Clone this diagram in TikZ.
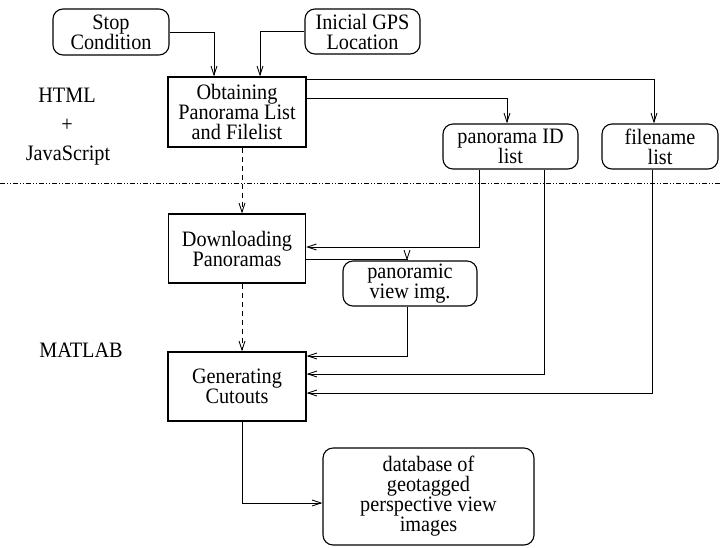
\documentclass[tikz,border=0pt]{standalone}
\usepackage{fontspec}
\setmainfont{Liberation Serif}[FakeStretch=0.92]
\usetikzlibrary{arrows.meta}
\begin{document}
\begin{tikzpicture}[x=1pt,y=-1pt,
  every node/.style={font=\fontsize{22}{20}\selectfont},
  sqbox/.style={draw,line width=1.1pt,inner sep=0pt,align=center},
  rndbox/.style={draw,line width=1.1pt,rounded corners=10pt,inner sep=0pt,align=center},
  conn/.style={line width=0.9pt,-{Straight Barb[length=9pt,width=6pt,line width=0.9pt]}},
  dashconn/.style={conn,dash pattern=on 5pt off 4pt},
  sepline/.style={line width=0.9pt,dash pattern=on 5pt off 2pt on 1pt off 2pt on 1pt off 2pt}]
\useasboundingbox (0,0) rectangle (720,547);

% nodes
\node[rndbox,minimum width=116pt,minimum height=46pt] (stop) at (111,32) {Stop\\Condition};
\node[rndbox,minimum width=115pt,minimum height=45pt] (gps) at (362.5,31.5) {Inicial GPS\\Location};
\node[sqbox,minimum width=138pt,minimum height=70pt] (obt) at (237,112) {Obtaining\\Panorama List\\and Filelist};
\node[rndbox,minimum width=135pt,minimum height=45pt] (pid) at (510.5,146.5) {panorama ID\\list};
\node[rndbox,minimum width=116pt,minimum height=45pt] (fname) at (660,146.5) {filename\\list};
\node[sqbox,minimum width=137pt,minimum height=69pt] (dl) at (237,248.5) {Downloading\\Panoramas};
\node[rndbox,minimum width=134pt,minimum height=45pt] (pview) at (410,283.5) {panoramic\\view img.};
\node[sqbox,minimum width=138pt,minimum height=69pt] (gen) at (237,386.5) {Generating\\Cutouts};
\node[rndbox,minimum width=211pt,minimum height=97pt] (db) at (428.5,496.5) {database of\\geotagged\\perspective view\\images};

% side labels
\node[anchor=base] (html) at (67,102) {HTML};
\node (plus) at (67,125) {+};
\node[anchor=base] (js) at (68,160) {JavaScript};
\node[anchor=base] (matlab) at (81,357) {MATLAB};

% separator
\coordinate (sepL) at (0,183);
\coordinate (sepR) at (720,183);
\draw[sepline] (sepL) -- (sepR);

% connectors
\draw[conn] (stop.east) -| ([xshift=-23pt]obt.north);
\draw[conn] (gps.west) -| ([xshift=23pt]obt.north);
\draw[conn] ([yshift=-3pt]obt.north east) -| ([xshift=-6pt]fname.north);
\draw[conn] ([yshift=-22pt]obt.north east) -| ([xshift=-3.5pt]pid.north);
\draw[dashconn] ([xshift=5pt]obt.south) -- ([xshift=5pt]dl.north);
\draw[conn] ([xshift=-31.5pt]pid.south) |- ([yshift=1.5pt]dl.east);
\draw[conn] ([yshift=-10.5pt]dl.east) -| ([xshift=-3pt]pview.north);
\draw[dashconn] ([xshift=5pt]dl.south) -- ([xshift=5pt]gen.north);
\draw[conn] ([xshift=-3pt]pview.south) |- ([yshift=30.5pt]gen.east);
\draw[conn] ([xshift=33.5pt]pid.south) |- ([yshift=12.5pt]gen.east);
\draw[conn] ([xshift=-8pt]fname.south) |- ([yshift=-6.5pt]gen.east);
\draw[conn] ([xshift=5pt]gen.south) |- ([yshift=-6.5pt]db.west);
\end{tikzpicture}
\end{document}
